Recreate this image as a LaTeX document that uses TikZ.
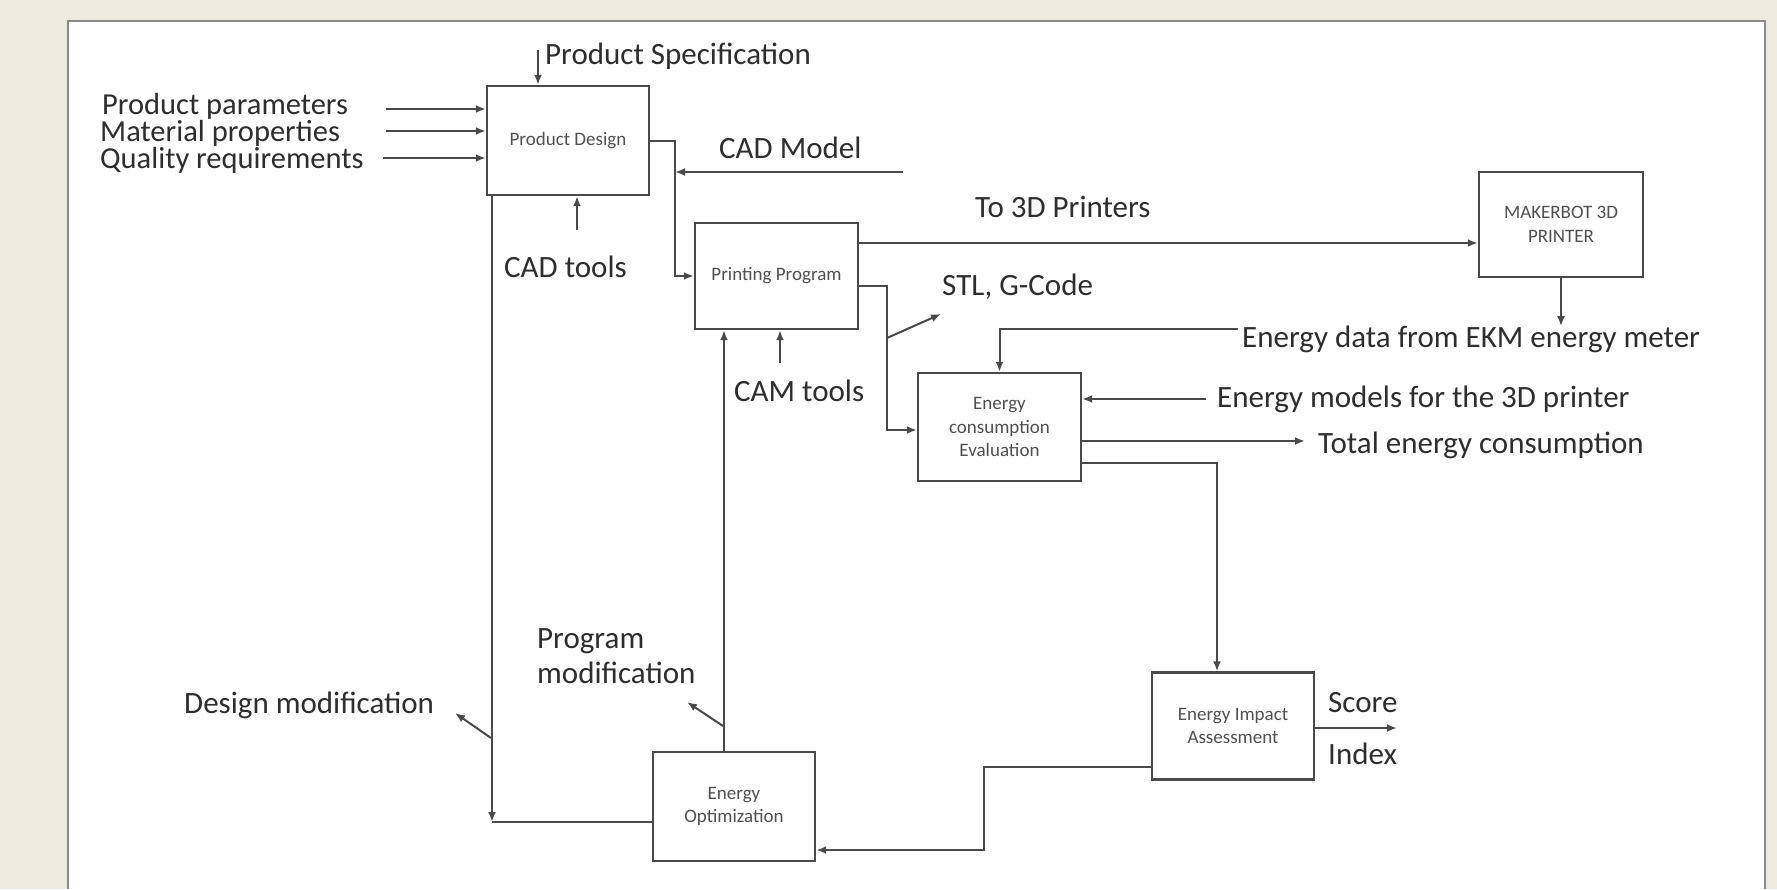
\documentclass[tikz,border=0pt]{standalone}
\usepackage{fontspec}
\setmainfont{Carlito}
\usetikzlibrary{arrows.meta}
\definecolor{bgc}{HTML}{EDEBE0}
\definecolor{ln}{HTML}{4A4A4A}
\definecolor{txt}{HTML}{2E2E2E}
\definecolor{btxt}{HTML}{505050}
\definecolor{pnl}{HTML}{8A8A8A}
\begin{document}
\begin{tikzpicture}[x=1pt,y=-1pt,
  blk/.style={draw=ln,line width=2.4pt,fill=white,inner sep=0pt,align=center,
    text=btxt,font=\fontsize{19}{23.5}\selectfont},
  lbl/.style={inner sep=0pt,anchor=base west,text=txt,font=\fontsize{31}{35}\selectfont},
  conn/.style={draw=ln,line width=2pt},
  arr/.style={conn,-{Latex[length=10pt,width=8pt]}}]
\useasboundingbox (0,0) rectangle (1777,889);
\fill[bgc] (0,0) rectangle (1777,889);
\fill[white] (68,21) rectangle (1765,889);
\draw[pnl,line width=1.6pt] (68,889) -- (68,21) -- (1765,21) -- (1765,889);

% boxes
\node[blk,minimum width=162pt,minimum height=109pt] (pd) at (568,140.5) {Product Design};
\node[blk,minimum width=163pt,minimum height=106pt] (pp) at (776.5,276) {Printing Program};
\node[blk,minimum width=164pt,minimum height=105pt] (mb) at (1561,224.5) {MAKERBOT 3D\\PRINTER};
\node[blk,minimum width=163pt,minimum height=108pt] (ee) at (999.5,427) {Energy\\consumption\\Evaluation};
\node[blk,minimum width=162pt,minimum height=107pt] (eia) at (1233,726) {Energy Impact\\Assessment};
\node[blk,minimum width=162pt,minimum height=109pt] (eo) at (734,806.5) {Energy\\Optimization};

% labels
\node[lbl] (tps) at (545,64) {Product Specification};
\node[lbl,font=\fontsize{30.5}{35}\selectfont] (tpp) at (102,114) {Product parameters};
\node[lbl,font=\fontsize{30.5}{35}\selectfont] (tmp) at (100,141) {Material properties};
\node[lbl,font=\fontsize{30.5}{35}\selectfont] (tqr) at (100,168.5) {Quality requirements};
\node[lbl] (tcadt) at (504,277) {CAD tools};
\node[lbl] (tcadm) at (719,158) {CAD Model};
\node[lbl] (t3d) at (975,217) {To 3D Printers};
\node[lbl] (tstl) at (942,295) {STL, G-Code};
\node[lbl] (tcam) at (734,401) {CAM tools};
\node[lbl] (tekm) at (1242,347) {Energy data from EKM energy meter};
\node[lbl] (tmod) at (1217,407) {Energy models for the 3D printer};
\node[lbl] (ttot) at (1318,453) {Total energy consumption};
\node[lbl] (tsc) at (1328,712) {Score};
\node[lbl] (tidx) at (1328,764) {Index};
\node[lbl,anchor=north west,align=left,font=\fontsize{31}{35}\selectfont] (tprm) at (537,628) {Program\\modification};
\node[lbl] (tdes) at (184,713) {Design modification};

% free ends
\coordinate (psS) at (538,50);
\coordinate (i1) at (386,109);
\coordinate (i2) at (386,131);
\coordinate (i3) at (383,158);
\coordinate (cadtS) at (577,230);
\coordinate (cmS) at (903,172);
\coordinate (cmE) at (675,172);
\coordinate (stlS) at (887,338);
\coordinate (stlE) at (941,314);
\coordinate (camS) at (780,363);
\coordinate (edS) at (1238,329);
\coordinate (emS) at (1206,399);
\coordinate (totE) at (1305,441);
\coordinate (scE) at (1397,728);
\coordinate (dmS) at (491,738);
\coordinate (dmE) at (455,713);
\coordinate (pmS) at (723,726);
\coordinate (pmE) at (687,702);
\coordinate (corner) at (492,822);

% connectors
\draw[arr] (psS) -- (psS |- pd.north);
\draw[arr] (i1) -- (i1 -| pd.west);
\draw[arr] (i2) -- (i2 -| pd.west);
\draw[arr] (i3) -- (i3 -| pd.west);
\draw[arr] (cadtS) -- (cadtS |- pd.south);
\draw[arr] (cmS) -- (cmE);
\draw[arr] (pd.east) -- ++(25,0) |- (pp.west);
\draw[arr] (pp.east |- 0,243) -- (mb.west |- 0,243);
\draw[arr] (pp.east |- 0,286) -- (887,286) -- (887,430) -- (ee.west |- 0,430);
\draw[arr] (stlS) -- (stlE);
\draw[arr] (camS) -- (camS |- pp.south);
\draw[arr] (mb.south) -- ++(0,48);
\draw[arr] (edS) -| (ee.north);
\draw[arr] (emS) -- (emS -| ee.east);
\draw[arr] (ee.east |- totE) -- (totE);
\draw[arr] (ee.east |- 0,463) -| ([xshift=-16pt]eia.north);
\draw[arr] (eia.east |- scE) -- (scE);
\draw[arr] (eia.west |- 0,767) -- (984,767) -- (984,850) -- (eo.east |- 0,850);
\draw[arr] (eo.north -| 724,0) -- (pp.south -| 724,0);
\draw[conn] (eo.west |- corner) -- (corner);
\draw[arr] (pd.south -| corner) -- (corner);
\draw[arr] (dmS) -- (dmE);
\draw[arr] (pmS) -- (pmE);
\end{tikzpicture}
\end{document}
